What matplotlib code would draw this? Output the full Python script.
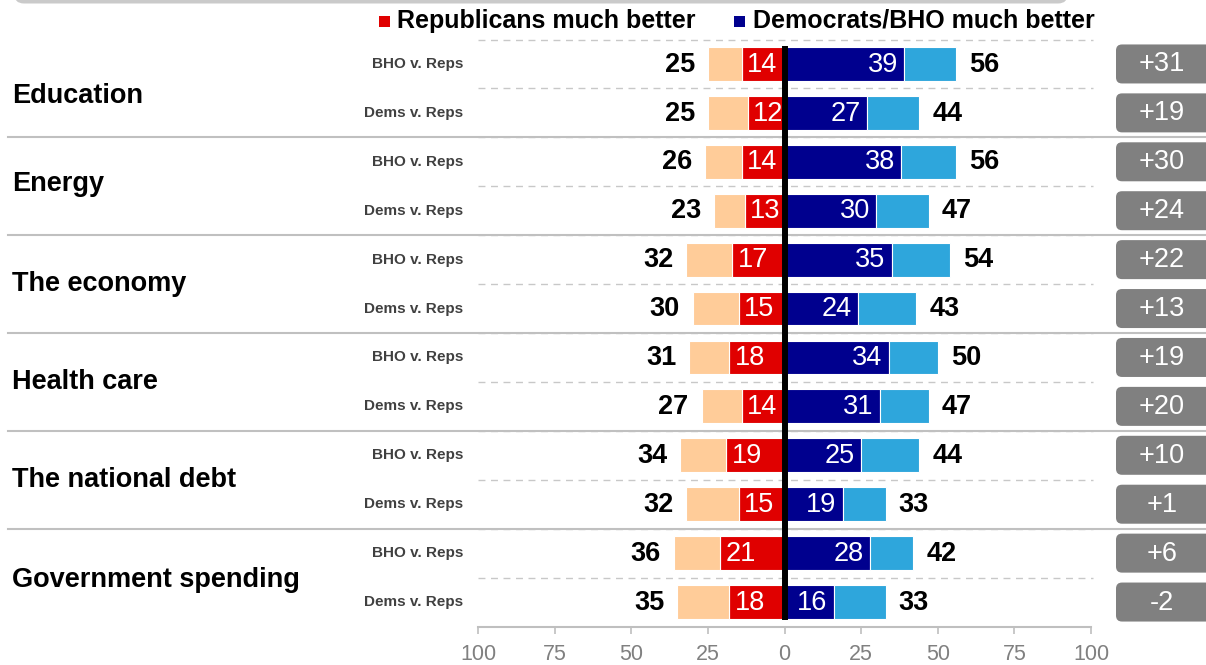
import matplotlib
matplotlib.use("Agg")
import matplotlib.pyplot as plt
from matplotlib.patches import FancyBboxPatch, Rectangle
from matplotlib.transforms import IdentityTransform, blended_transform_factory

plt.rcParams['font.family'] = ['Liberation Sans', 'DejaVu Sans']

# ---------------- data ----------------
categories = ["Education", "Energy", "The economy", "Health care",
              "The national debt", "Government spending"]
subgroups = ["BHO v. Reps", "Dems v. Reps"]
rep_total = [25, 25, 26, 23, 32, 30, 31, 27, 34, 32, 36, 35]
rep_much = [14, 12, 14, 13, 17, 15, 18, 14, 19, 15, 21, 18]
dem_much = [39, 27, 38, 30, 35, 24, 34, 31, 25, 19, 28, 16]
dem_total = [56, 44, 56, 47, 54, 43, 50, 47, 44, 33, 42, 33]
diff_labels = ["+31", "+19", "+30", "+24", "+22", "+13",
               "+19", "+20", "+10", "+1", "+6", "-2"]
tick_values = [-100, -75, -50, -25, 0, 25, 50, 75, 100]
tick_labels = ["100", "75", "50", "25", "0", "25", "50", "75", "100"]
legend_labels = ["Republicans much better", "Democrats/BHO much better"]

# ---------------- style ----------------
C_PEACH = "#FFCC99"
C_RED = "#E00000"
C_NAVY = "#00008E"
C_LBLUE = "#2EA6DC"
C_GRID = "#C8C8C8"
C_SEP = "#C0C0C0"
C_BOX = "#808080"
label_dy = [0.15, -0.04, 0.0, 0.0, 0.0, 0.04]   # fine vertical nudges (rows)

W, H = 1206, 665
fig = plt.figure(figsize=(W / 100, H / 100), dpi=100)
fig.patch.set_facecolor("white")

ax_left, ax_right = 478, 1091
ax_top, ax_bot = 39.5, 626.5
ax = fig.add_axes([ax_left / W, 1 - ax_bot / H, (ax_right - ax_left) / W,
                   (ax_bot - ax_top) / H])
n = len(rep_total)
ax.set_xlim(-100, 100)
ax.set_ylim(n - 0.5, -0.5)

ys = list(range(n))
bh = 0.69
neg_red = [-v for v in rep_much]
peach_w = [-(t - m) for t, m in zip(rep_total, rep_much)]
lblue_w = [t - m for t, m in zip(dem_total, dem_much)]

ax.barh(ys, neg_red, height=bh, color=C_RED, edgecolor="white", linewidth=0.8, zorder=3)
ax.barh(ys, peach_w, left=neg_red, height=bh, color=C_PEACH, edgecolor="white",
        linewidth=0.8, zorder=3)
ax.barh(ys, dem_much, height=bh, color=C_NAVY, edgecolor="white", linewidth=0.8, zorder=3)
ax.barh(ys, lblue_w, left=dem_much, height=bh, color=C_LBLUE, edgecolor="white",
        linewidth=0.8, zorder=3)

# center black line
ax.plot([0, 0], [-0.5 + (1 - bh) / 2 - 0.03, n - 0.5 - (1 - bh) / 2 + 0.03],
        color="black", lw=4.3, zorder=5, solid_capstyle="butt")

# value labels
for i in range(n):
    ax.annotate(str(rep_total[i]), xy=(-rep_total[i], i), xytext=(-9.4, -0.5),
                textcoords="offset points", ha="right", va="center",
                fontsize=19.5, fontweight="bold", color="black", zorder=6)
    ax.annotate(str(dem_total[i]), xy=(dem_total[i], i), xytext=(9.4, -0.5),
                textcoords="offset points", ha="left", va="center",
                fontsize=19.5, fontweight="bold", color="black", zorder=6)
    ax.annotate(str(rep_much[i]), xy=(-rep_much[i], i), xytext=(4.0, -0.5),
                textcoords="offset points", ha="left", va="center",
                fontsize=19.5, color="white", zorder=6)
    ax.annotate(str(dem_much[i]), xy=(dem_much[i], i), xytext=(-4.5, -0.5),
                textcoords="offset points", ha="right", va="center",
                fontsize=19.5, color="white", zorder=6)

# dashed row lines
for b in range(n):
    yb = b - 0.5
    ax.plot([-100, 100.6], [yb, yb], color=C_GRID, lw=1.0,
            linestyle=(0, (5, 4)), zorder=1, clip_on=False)

# solid group separators across the figure
blend = blended_transform_factory(fig.transFigure, ax.transData)
for g in range(1, len(categories)):
    yb = 2 * g - 0.5
    ax.plot([8 / W, 1.0], [yb, yb], color=C_SEP, lw=1.5, transform=blend,
            zorder=2, clip_on=False)

# category labels and subgroup labels
for g, cat in enumerate(categories):
    ax.text(12 / W, 2 * g + 0.5 + label_dy[g], cat, transform=blend, ha="left",
            va="center", fontsize=19.5, fontweight="bold", color="black")
    for k, sub in enumerate(subgroups):
        ax.text(463 / W, 2 * g + k, sub, transform=blend, ha="right",
                va="center", fontsize=11, fontweight="bold", color="#404040")

# axis styling
for s in ["top", "left", "right"]:
    ax.spines[s].set_visible(False)
ax.spines["bottom"].set_color("#BFBFBF")
ax.spines["bottom"].set_linewidth(1.5)
ax.set_yticks([])
ax.set_xticks(tick_values)
ax.set_xticklabels(tick_labels)
ax.tick_params(axis="x", direction="out", length=5, width=1.2, color="#BFBFBF",
               labelsize=15.5, labelcolor="#808080", pad=7.5)
ax.set_facecolor("none")

# diff boxes on the right
fig.canvas.draw()
for i in range(n):
    yc = ax.transData.transform((0, i))[1]
    box = FancyBboxPatch((1116, yc - 19.5), 110, 39,
                         boxstyle="round,pad=0,rounding_size=6",
                         transform=IdentityTransform(), facecolor=C_BOX,
                         edgecolor="none", zorder=4)
    fig.patches.append(box)
    fig.text(1162 / W, (yc - 0.5) / H, diff_labels[i], ha="center", va="center",
             fontsize=19.5, color="white", zorder=5)

# legend
leg_y = H - 21
fig.patches.append(Rectangle((379, leg_y - 5.5), 11, 11, transform=IdentityTransform(),
                             facecolor=C_RED, edgecolor="none"))
fig.text(397 / W, leg_y / H, legend_labels[0], ha="left", va="center",
         fontsize=18, fontweight="bold", color="black")
fig.patches.append(Rectangle((734, leg_y - 5.5), 11, 11, transform=IdentityTransform(),
                             facecolor=C_NAVY, edgecolor="none"))
fig.text(753 / W, leg_y / H, legend_labels[1], ha="left", va="center",
         fontsize=18, fontweight="bold", color="black")

# top panel edge
fig.patches.append(FancyBboxPatch((14, H - 3.5), 1054, 60,
                                  boxstyle="round,pad=0,rounding_size=10",
                                  transform=IdentityTransform(),
                                  facecolor="#CACACA", edgecolor="none"))

fig.savefig("out.png", dpi=100)
